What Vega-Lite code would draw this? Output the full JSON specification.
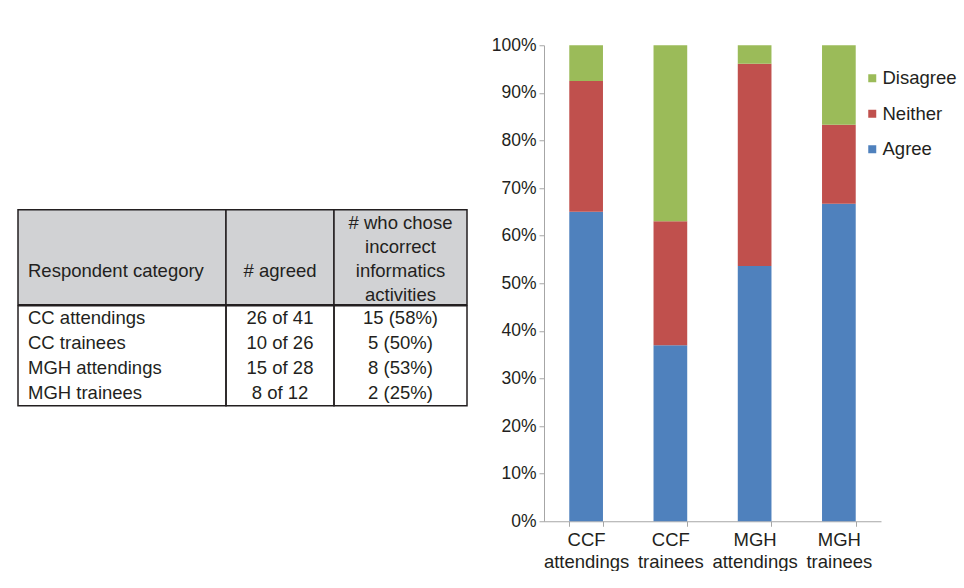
{
  "$schema": "https://vega.github.io/schema/vega-lite/v6.json",
  "padding": {"left": 17, "top": 36, "right": 0, "bottom": 0},
  "config": {"font": "Liberation Sans", "view": {"stroke": null}},
  "datasets": {
    "survey": [
      {"category": "CC attendings", "agreed": "26 of 41", "incorrect": "15 (58%)"},
      {"category": "CC trainees", "agreed": "10 of 26", "incorrect": "5 (50%)"},
      {"category": "MGH attendings", "agreed": "15 of 28", "incorrect": "8 (53%)"},
      {"category": "MGH trainees", "agreed": "8 of 12", "incorrect": "2 (25%)"}
    ],
    "responses": [
      {"group": "CCF attendings", "response": "Agree", "percent": 65},
      {"group": "CCF attendings", "response": "Neither", "percent": 27.5},
      {"group": "CCF attendings", "response": "Disagree", "percent": 7.5},
      {"group": "CCF trainees", "response": "Agree", "percent": 37},
      {"group": "CCF trainees", "response": "Neither", "percent": 26},
      {"group": "CCF trainees", "response": "Disagree", "percent": 37},
      {"group": "MGH attendings", "response": "Agree", "percent": 53.6},
      {"group": "MGH attendings", "response": "Neither", "percent": 42.5},
      {"group": "MGH attendings", "response": "Disagree", "percent": 3.9},
      {"group": "MGH trainees", "response": "Agree", "percent": 66.7},
      {"group": "MGH trainees", "response": "Neither", "percent": 16.6},
      {"group": "MGH trainees", "response": "Disagree", "percent": 16.7}
    ]
  },
  "center": true,
  "spacing": 23,
  "hconcat": [
    {
      "spacing": -1.5,
      "vconcat": [
        {
          "spacing": 0,
          "bounds": "flush",
          "hconcat": [
            {
              "width": 208, "height": 95,
              "view": {"fill": "#d1d2d4", "stroke": "#231f20", "strokeWidth": 1.5},
              "data": {"values": [{"label": "Respondent category"}]},
              "mark": {"type": "text", "align": "left", "baseline": "middle", "x": 0, "dx": 10, "y": "height", "dy": -34, "fontSize": 18.5, "color": "#231f20"},
              "encoding": {"text": {"field": "label"}}
            },
            {
              "width": 108, "height": 95,
              "view": {"fill": "#d1d2d4", "stroke": "#231f20", "strokeWidth": 1.5},
              "data": {"values": [{"label": "# agreed"}]},
              "mark": {"type": "text", "align": "center", "baseline": "middle", "y": "height", "dy": -34, "fontSize": 18.5, "color": "#231f20"},
              "encoding": {"text": {"field": "label"}}
            },
            {
              "width": 133, "height": 95,
              "view": {"fill": "#d1d2d4", "stroke": "#231f20", "strokeWidth": 1.5},
              "data": {"values": [{"label": "# who chose\nincorrect\ninformatics\nactivities"}]},
              "mark": {"type": "text", "align": "center", "baseline": "middle", "lineBreak": "\n", "lineHeight": 24, "y": "height", "dy": -82, "fontSize": 18.5, "color": "#231f20"},
              "encoding": {"text": {"field": "label"}}
            }
          ]
        },
        {
          "spacing": 0,
          "bounds": "flush",
          "hconcat": [
            {
              "width": 208, "height": 100,
              "view": {"stroke": "#231f20", "strokeWidth": 1.5},
              "data": {"name": "survey"},
              "mark": {"type": "text", "align": "left", "baseline": "middle", "x": 0, "dx": 10, "fontSize": 18.5, "color": "#231f20"},
              "encoding": {
                "y": {"field": "category", "type": "nominal", "sort": null, "axis": null, "scale": {"paddingInner": 0, "paddingOuter": 0}},
                "text": {"field": "category"}
              }
            },
            {
              "width": 108, "height": 100,
              "view": {"stroke": "#231f20", "strokeWidth": 1.5},
              "data": {"name": "survey"},
              "mark": {"type": "text", "align": "center", "baseline": "middle", "fontSize": 18.5, "color": "#231f20"},
              "encoding": {
                "y": {"field": "category", "type": "nominal", "sort": null, "axis": null, "scale": {"paddingInner": 0, "paddingOuter": 0}},
                "text": {"field": "agreed"}
              }
            },
            {
              "width": 133, "height": 100,
              "view": {"stroke": "#231f20", "strokeWidth": 1.5},
              "data": {"name": "survey"},
              "mark": {"type": "text", "align": "center", "baseline": "middle", "fontSize": 18.5, "color": "#231f20"},
              "encoding": {
                "y": {"field": "category", "type": "nominal", "sort": null, "axis": null, "scale": {"paddingInner": 0, "paddingOuter": 0}},
                "text": {"field": "incorrect"}
              }
            }
          ]
        }
      ]
    },
    {
      "width": 337,
      "height": 476,
      "data": {"name": "responses"},
      "transform": [
        {"calculate": "indexof(['Agree','Neither','Disagree'], datum.response)", "as": "stackOrder"}
      ],
      "mark": {"type": "bar"},
      "encoding": {
        "x": {
          "field": "group", "type": "nominal", "sort": null,
          "scale": {"paddingInner": 0.6, "paddingOuter": 0.3},
          "axis": {
            "title": null, "labelAngle": 0, "labelExpr": "split(datum.label, ' ')",
            "labelFontSize": 18.5, "labelLineHeight": 22, "labelColor": "#231f20", "labelPadding": 4,
            "tickSize": 5, "tickColor": "#a6a6a6", "domainColor": "#a6a6a6", "tickBand": "extent"
          }
        },
        "y": {
          "field": "percent", "type": "quantitative", "stack": "normalize",
          "scale": {"domain": [0, 1]},
          "axis": {
            "title": null, "format": ".0%", "values": [0, 0.1, 0.2, 0.3, 0.4, 0.5, 0.6, 0.7, 0.8, 0.9, 1],
            "grid": false, "labelFontSize": 17.5, "labelColor": "#231f20", "labelPadding": 3,
            "tickSize": 5, "tickColor": "#a6a6a6", "domainColor": "#a6a6a6"
          }
        },
        "color": {
          "field": "response", "type": "nominal",
          "scale": {"domain": ["Disagree", "Neither", "Agree"], "range": ["#9bbb59", "#c0504d", "#4f81bd"]},
          "legend": {
            "title": null, "orient": "none", "legendX": 845, "legendY": 24,
            "symbolType": "square", "symbolSize": 64, "symbolStrokeWidth": 0,
            "labelFontSize": 18.5, "labelColor": "#231f20", "labelOffset": 1, "rowPadding": 16.5
          }
        },
        "order": {"field": "stackOrder"}
      }
    }
  ]
}
